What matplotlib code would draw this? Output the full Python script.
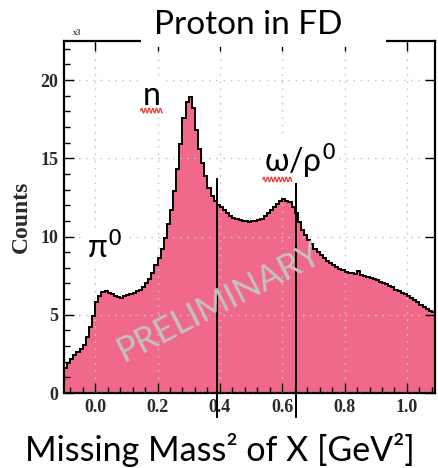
"""Missing mass squared spectrum for protons detected in the forward detector."""

import numpy as np
import matplotlib
import matplotlib.pyplot as plt
from matplotlib.patches import Rectangle
from matplotlib.ticker import MultipleLocator

matplotlib.use("Agg")

W, H = 439, 468

# histogram: 0.01 GeV^2 bins from -0.10 to 1.09, counts in units of 10^3
bin_lo, bin_hi = -0.10, 1.09
counts = [
    1.6, 1.9, 2.2, 2.4, 2.6, 2.8, 3.1, 3.6, 4.2, 4.9,
    5.8, 6.2, 6.45, 6.5, 6.4, 6.3, 6.2, 6.15, 6.1, 6.2,
    6.25, 6.3, 6.4, 6.5, 6.6, 6.8, 7.0, 7.3, 7.7, 8.2,
    8.6, 9.2, 9.9, 10.8, 11.7, 12.9, 14.3, 15.9, 17.6, 18.6,
    18.9, 18.2, 16.8, 15.6, 14.7, 13.9, 13.1, 12.6, 12.3, 12.0,
    11.9, 11.7, 11.5, 11.3, 11.2, 11.1, 11.05, 11.0, 11.0, 10.95,
    11.0, 11.0, 11.05, 11.1, 11.3, 11.5, 11.7, 11.9, 12.1, 12.3,
    12.4, 12.3, 12.2, 11.9, 11.5, 10.9, 10.4, 10.1, 9.8, 9.5,
    9.2, 9.0, 8.8, 8.6, 8.45, 8.3, 8.15, 8.05, 7.95, 7.85,
    7.75, 7.7, 7.65, 7.6, 7.8, 7.55, 7.5, 7.4, 7.35, 7.3,
    7.2, 7.1, 7.05, 6.95, 6.85, 6.75, 6.6, 6.5, 6.4, 6.3,
    6.2, 6.1, 5.95, 5.8, 5.6, 5.5, 5.35, 5.25, 5.2,
]

# cut lines on the missing mass squared
cut_lines = [0.39, 0.643]
cut_top = 13.7

# particle labels: (text, x, y) in data coordinates
peak_labels = [
    ("n", 0.153, 18.4),
    ("π$^{0}$", -0.025, 8.6),
    ("ω/ρ$^{0}$", 0.54, 14.1),
]

x_ticks = [0.0, 0.2, 0.4, 0.6, 0.8, 1.0]
y_ticks = [0, 5, 10, 15, 20]

PINK = "#F0698B"
SANS = ["Lato", "DejaVu Sans"]
SERIF = "Liberation Serif"

fig = plt.figure(figsize=(W / 100, H / 100), dpi=100)
ax = fig.add_axes([64 / W, (H - 393) / H, (435 - 64) / W, (393 - 41) / H])

edges = np.linspace(bin_lo, bin_hi, len(counts) + 1)
ax.stairs(counts, edges, fill=True, color=PINK, zorder=1)
ax.stairs(counts, edges, baseline=None, color="black", lw=1.4, zorder=3)

ax.set_xlim(bin_lo, bin_hi)
ax.set_ylim(0, 22.5)
ax.set_xticks(x_ticks)
ax.set_xticklabels([f"{v:.1f}" for v in x_ticks])
ax.set_yticks(y_ticks)
ax.xaxis.set_minor_locator(MultipleLocator(0.04))
ax.yaxis.set_minor_locator(MultipleLocator(1))

ax.grid(True, which="major", color="#c8c8c8", lw=1.0,
        linestyle=(0, (1.2, 4)), zorder=2)
ax.set_axisbelow(False)

ax.tick_params(which="major", direction="in", length=7.5, width=1.0,
               top=True, right=True, pad=4)
ax.tick_params(which="minor", direction="in", length=4, width=1.0)
ax.tick_params(labelsize=13, labelcolor="#2a2a2a")
for lab in ax.get_xticklabels() + ax.get_yticklabels():
    lab.set_fontfamily(SERIF)
    lab.set_fontweight("bold")
for sp in ax.spines.values():
    sp.set_linewidth(1.6)

ax.set_ylabel("Counts", fontfamily=SERIF, fontweight="bold", fontsize=17,
              color="#2a2a2a", labelpad=6)
fig.text(73 / W, 1 - 35 / H, "x3", fontsize=6, fontfamily=SERIF,
         fontweight="bold", color="#444444")

# cut lines drawn past the bottom axis
for xc in cut_lines:
    ax.plot([xc, xc], [cut_top, -1.55], color="black", lw=1.4,
            clip_on=False, zorder=4)

for text, x, y in peak_labels:
    ax.text(x, y, text, fontsize=23, family=SANS, ha="left", va="baseline",
            zorder=5, bbox=dict(facecolor="white", edgecolor="none", pad=2))

# red wavy underline on the n and ω labels
for x0, x1, yb in [(0.146, 0.215, 18.05), (0.538, 0.63, 13.65)]:
    xs = np.linspace(x0, x1, 60)
    ys = yb + 0.15 * np.sin((xs - x0) / 0.012 * 2 * np.pi)
    ax.plot(xs, ys, color="#e8403a", lw=0.9, zorder=6)

ax.text(0.4, 5.8, "PRELIMINARY", fontsize=25, family=SANS, color="#c2c2c2",
        rotation=27, ha="center", va="center", zorder=4)

# white band where the title sits over the frame
fig.add_artist(Rectangle((141 / W, 1 - 47 / H), (386 - 141) / W, 47 / H,
                         transform=fig.transFigure, facecolor="white",
                         edgecolor="none", zorder=5))
fig.text(248 / W, 1 - 34 / H, "Proton in FD", fontsize=24, family=SANS,
         ha="center", va="baseline", zorder=6)
fig.text(220 / W, 1 - 461 / H, "Missing Mass² of X [GeV²]", fontsize=24.5,
         family=SANS, ha="center", va="baseline")

fig.savefig("out.png", dpi=100)
